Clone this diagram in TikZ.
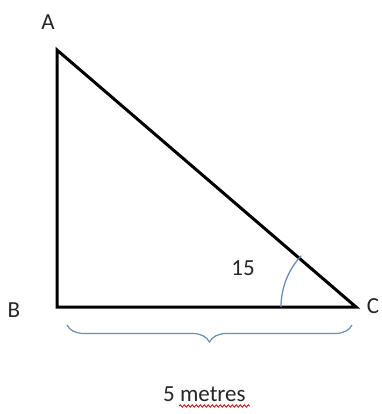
\documentclass[tikz,border=0pt]{standalone}
\usepackage{fontspec}
\setmainfont{Carlito}
\usetikzlibrary{decorations.pathreplacing,decorations.pathmorphing}
\definecolor{bracecol}{HTML}{6A8DB5}
\begin{document}
\begin{tikzpicture}[x=1pt,y=-1pt,
  edge/.style={line width=3pt,line join=miter},
  lbl/.style={font=\fontsize{23}{25}\selectfont,text=black!85,inner sep=0pt},
  bracestyle/.style={draw=bracecol,line width=1.2pt,decorate,decoration={brace,mirror,amplitude=17pt}}]
\useasboundingbox (0,0) rectangle (381,414);
\coordinate (A) at (57,50);
\coordinate (B) at (57,307);
\coordinate (C) at (356,307);
\draw[edge] (A) -- (B) -- (C) -- cycle;
\draw[bracecol,line width=1.3pt] (C) ++(-75,0) arc[start angle=180,end angle=223,radius=75];
\node[lbl] (la) at (48,22) {A};
\node[lbl] (lb) at (14,310) {B};
\node[lbl] (lc) at (373,306) {C};
\node[lbl] (ang) at (243,268) {15};
\coordinate (bl) at (67,325);
\coordinate (br) at (352,325);
\draw[bracestyle] (bl) -- (br);
\node[lbl,anchor=base west] (len) at (163,401) {5 metres};
\coordinate (ul) at (179,406);
\coordinate (ur) at (250,406);
\draw[red!80!black,line width=0.8pt,decorate,decoration={snake,amplitude=1.2pt,segment length=4pt}] (ul) -- (ur);
\end{tikzpicture}
\end{document}
